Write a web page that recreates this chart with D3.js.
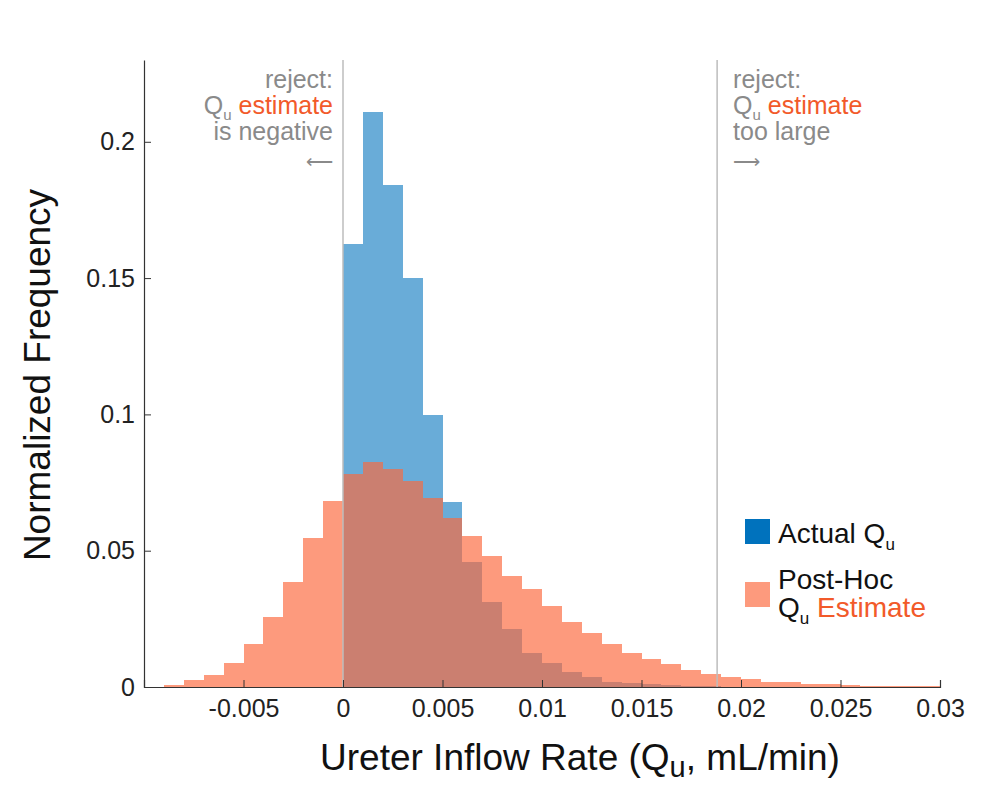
<!DOCTYPE html>
<html>
<head>
<meta charset="utf-8" />
<title>Ureter Inflow Rate</title>
<style>
  body { margin: 0; background: #fff; }
  text { font-family: "Liberation Sans", Arial, Helvetica, sans-serif; }
</style>
</head>
<body>
<script src="https://d3js.org/d3.v7.min.js"></script>
<script>
// bin edges start at these values, each bin 0.001 wide
var binWidth = 0.001;
var actualStart = 0.000;
var actualFreq = [0.1625, 0.211, 0.184, 0.150, 0.0997, 0.0677, 0.046, 0.0313, 0.0211, 0.0124,
                  0.0089, 0.0054, 0.0035, 0.002, 0.0013, 0.001, 0.0006, 0.0004, 0.0002, 0.0001];
var estimateStart = -0.009;
var estimateFreq = [0.0007, 0.0026, 0.0044, 0.0089, 0.0158, 0.0256, 0.0387, 0.0546, 0.0684,
                    0.0783, 0.0826, 0.0798, 0.0754, 0.0692, 0.062, 0.0554, 0.0482, 0.0408, 0.0358,
                    0.0298, 0.024, 0.0197, 0.0158, 0.0126, 0.0101, 0.0085, 0.0063, 0.0048, 0.0038,
                    0.0028, 0.002, 0.002, 0.0011, 0.0011, 0.0007, 0.0005, 0.0004, 0.0003, 0.0002];
var xTicks = [-0.005, 0, 0.005, 0.01, 0.015, 0.02, 0.025, 0.03];
var xTickLabels = ["-0.005", "0", "0.005", "0.01", "0.015", "0.02", "0.025", "0.03"];
var yTicks = [0, 0.05, 0.1, 0.15, 0.2];
var yTickLabels = ["0", "0.05", "0.1", "0.15", "0.2"];
var rejectLow = 0;
var rejectHigh = 0.0188;

var width = 982, height = 804;
var margin = {left: 144, right: 42, top: 60, bottom: 117};

var svg = d3.select("body").append("svg")
    .attr("width", width)
    .attr("height", height);

var x = d3.scaleLinear().domain([-0.01, 0.03]).range([margin.left, width - margin.right]);
var y = d3.scaleLinear().domain([0, 0.23]).range([height - margin.bottom, margin.top]);

var blue = "#0072bd";
var red = "#fc683d";
var orangeText = "#f25a2a";
var gray = "#8a8a8a";

function bins(start, freq) {
  return freq.map(function(f, i) {
    return {x0: start + i * binWidth, x1: start + (i + 1) * binWidth, f: f};
  });
}

function drawHist(data, color, alpha) {
  svg.append("g").selectAll("rect")
    .data(data)
    .enter().append("rect")
    .attr("x", d => x(d.x0))
    .attr("width", d => x(d.x1) - x(d.x0))
    .attr("y", d => y(d.f))
    .attr("height", d => y(0) - y(d.f))
    .attr("fill", color)
    .attr("fill-opacity", alpha)
    .attr("shape-rendering", "crispEdges");
}
drawHist(bins(actualStart, actualFreq), blue, 0.59);
drawHist(bins(estimateStart, estimateFreq), red, 0.67);

// reject thresholds
[rejectLow, rejectHigh].forEach(function(v) {
  svg.append("line")
    .attr("x1", x(v)).attr("x2", x(v))
    .attr("y1", y(0.23)).attr("y2", y(0))
    .attr("stroke", "#bdbdbd")
    .attr("stroke-width", 1.5);
});

// axes, ticks pointing inward
var xAxis = svg.append("g")
  .attr("transform", "translate(0," + y(0) + ")")
  .call(d3.axisBottom(x).tickValues(xTicks).tickSizeInner(-7).tickSizeOuter(-7).tickPadding(12)
        .tickFormat((d, i) => xTickLabels[i]));
var yAxis = svg.append("g")
  .attr("transform", "translate(" + x(-0.01) + ",0)")
  .call(d3.axisLeft(y).tickValues(yTicks).tickSizeInner(-7).tickSizeOuter(0).tickPadding(9)
        .tickFormat((d, i) => yTickLabels[i]));

[xAxis, yAxis].forEach(function(a) {
  a.select(".domain").attr("stroke", "#333").attr("stroke-width", 1.2);
  a.selectAll(".tick line").attr("stroke", "#333");
  a.selectAll(".tick text").attr("font-size", 25).attr("fill", "#222")
    .attr("font-family", "Liberation Sans, Arial, sans-serif");
});

// axis titles
svg.append("text")
  .attr("transform", "translate(50," + 375 + ") rotate(-90)")
  .attr("text-anchor", "middle")
  .attr("font-size", 37)
  .attr("fill", "#111")
  .text("Normalized Frequency");

var xl = svg.append("text")
  .attr("x", 580)
  .attr("y", 770)
  .attr("text-anchor", "middle")
  .attr("font-size", 37)
  .attr("fill", "#111");
xl.append("tspan").text("Ureter Inflow Rate (Q");
xl.append("tspan").attr("font-size", 29).attr("dy", 7).text("u");
xl.append("tspan").attr("dy", -7).text(", mL/min)");

// reject annotations
function note(xpos, anchor, last, arrow) {
  var g = svg.append("g").attr("font-size", 25).attr("fill", gray).attr("text-anchor", anchor);
  g.append("text").attr("x", xpos).attr("y", 88).text("reject:");
  var t = g.append("text").attr("x", xpos).attr("y", 114);
  t.append("tspan").text("Q");
  t.append("tspan").attr("font-size", 15).attr("dy", 6).text("u");
  t.append("tspan").attr("dy", -6).attr("fill", orangeText).text(" estimate");
  g.append("text").attr("x", xpos).attr("y", 140).text(last);
  g.append("text").attr("x", xpos).attr("y", 168).attr("font-size", 19).text(arrow);
}
note(x(rejectLow) - 10, "end", "is negative", "\u27F5");
note(x(rejectHigh) + 16, "start", "too large", "\u27F6");

// legend
var lg = svg.append("g").attr("font-size", 28).attr("fill", "#111");
lg.append("rect").attr("x", 745).attr("y", 519).attr("width", 25).attr("height", 25).attr("fill", blue);
var a = lg.append("text").attr("x", 778).attr("y", 543);
a.append("tspan").text("Actual Q");
a.append("tspan").attr("font-size", 17).attr("dy", 7).text("u");

lg.append("rect").attr("x", 745).attr("y", 582).attr("width", 25).attr("height", 25)
  .attr("fill", red).attr("fill-opacity", 0.67);
lg.append("text").attr("x", 778).attr("y", 589).text("Post-Hoc");
var b = lg.append("text").attr("x", 778).attr("y", 617);
b.append("tspan").text("Q");
b.append("tspan").attr("font-size", 17).attr("dy", 7).text("u");
b.append("tspan").attr("dy", -7).attr("fill", orangeText).text(" Estimate");
</script>
</body>
</html>
